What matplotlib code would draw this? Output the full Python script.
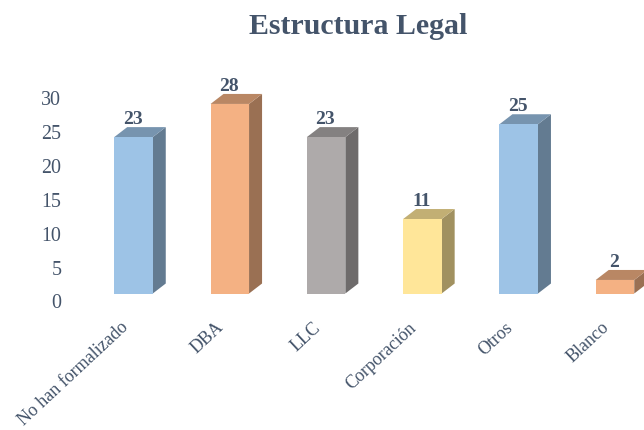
#!/usr/bin/env python3
"""Estructura Legal: bars with a drawn 3D depth."""
import matplotlib
matplotlib.use("Agg")
import matplotlib.pyplot as plt
from matplotlib.colors import to_rgb
from matplotlib.patches import Polygon
from matplotlib.transforms import ScaledTranslation

categories = ["No han formalizado", "DBA", "LLC", "Corporación", "Otros", "Blanco"]
values = [23, 28, 23, 11, 25, 2]
drawn_heights = [23.1, 28, 23.1, 11, 25, 2]
colors = ["#9DC3E6", "#F4B183", "#AEAAAA", "#FFE699", "#9DC3E6", "#F4B183"]
yticks = [0, 5, 10, 15, 20, 25, 30]

TEXT = "#44546A"
W, H = 644, 431
BAR_W = 0.40
DX = 13 / 96.3   # depth in category units
DY = 10 / 6.77   # depth in value units

plt.rcParams["font.family"] = ["Liberation Serif", "DejaVu Serif"]

fig = plt.figure(figsize=(W / 100, H / 100), dpi=100)
# y=0 sits at pixel row 294.5, one value is 6.77 px, one category is 96.3 px
left, right = 85, 644
top, bottom = 60, 294.5
ax = fig.add_axes([left / W, 1 - bottom / H, (right - left) / W, (bottom - top) / H])
ax.set_xlim((left - 133.5) / 96.3, (right - 133.5) / 96.3)
ax.set_ylim(0, (bottom - top) / 6.77)

for i, (v, h, c) in enumerate(zip(values, drawn_heights, colors)):
    x0, x1 = i - BAR_W / 2, i + BAR_W / 2
    rgb = to_rgb(c)
    side = tuple(k * 0.63 for k in rgb)
    cap = tuple(k * 0.76 for k in rgb)
    ax.add_patch(Polygon([(x1, 0), (x1 + DX, DY), (x1 + DX, h + DY), (x1, h)],
                         facecolor=side, edgecolor="none", clip_on=True))
    ax.add_patch(Polygon([(x0, h), (x0 + DX, h + DY), (x1 + DX, h + DY), (x1, h)],
                         facecolor=cap, edgecolor="none", clip_on=True))
    ax.bar(i, h, BAR_W, color=c, linewidth=0)
    ax.text(i - 0.01, h + DY, str(v), ha="center", va="bottom",
            fontsize=14, fontweight="bold", color=TEXT, clip_on=False)

for s in ax.spines.values():
    s.set_visible(False)
ax.patch.set_visible(False)

ax.set_yticks(yticks)
ax.tick_params(axis="y", length=0, pad=17, labelsize=14.4, labelcolor=TEXT)
# tick labels sit on the back wall of the 3D frame, a little below the bars' scale
ytrans = ScaledTranslation(0, -7 / 100, fig.dpi_scale_trans)
for lab in ax.get_yticklabels():
    lab.set_transform(lab.get_transform() + ytrans)

ax.set_xticks(range(len(categories)))
ax.set_xticklabels(categories, rotation=43, ha="right", va="top",
                   rotation_mode="anchor", fontsize=13, color=TEXT)
ax.tick_params(axis="x", length=0, pad=22)
xtrans = ScaledTranslation(-14 / 100, 6 / 100, fig.dpi_scale_trans)
for lab in ax.get_xticklabels():
    lab.set_transform(lab.get_transform() + xtrans)

fig.text(358 / W, 1 - 27 / H, "Estructura Legal", ha="center", va="center",
         fontsize=21.5, fontweight="bold", color=TEXT)

fig.savefig("out.png", dpi=100)
